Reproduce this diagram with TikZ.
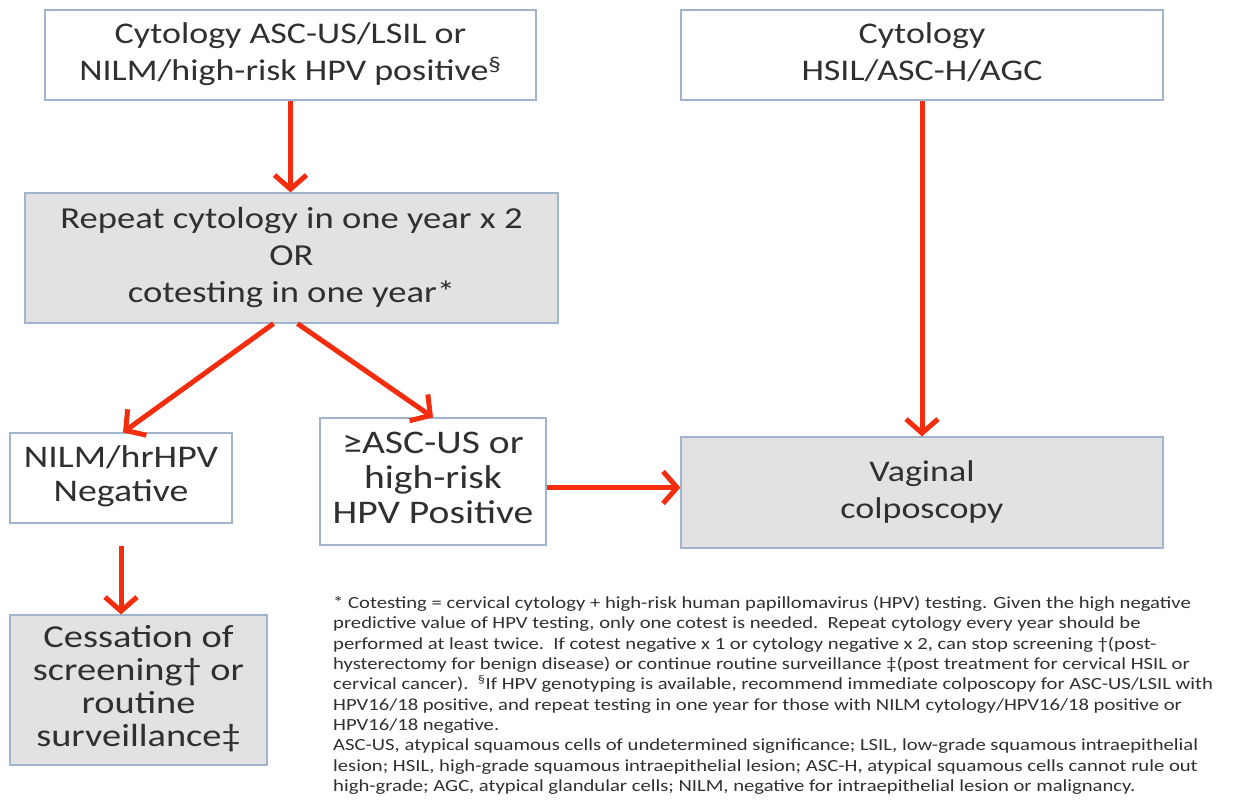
\documentclass[tikz,border=0pt]{standalone}
\usepackage{fontspec}
\setmainfont{Carlito}
\usetikzlibrary{arrows.meta,calc}
\definecolor{bordc}{RGB}{160,180,205}
\definecolor{boxgray}{RGB}{226,226,226}
\definecolor{arrred}{RGB}{245,45,15}
\definecolor{txt}{RGB}{48,48,48}
\newcommand{\btxt}[3]{\fontsize{#1}{#2}\selectfont\scalebox{1.2}[1]{\begin{tabular}{@{}c@{}}#3\end{tabular}}}
\begin{document}
\begin{tikzpicture}[x=1pt,y=-1pt,
  box/.style={draw=bordc, line width=1.2pt, rectangle, inner sep=0pt, align=center, text=txt},
  whitebox/.style={box, fill=white},
  graybox/.style={box, fill=boxgray},
  arr/.style={draw=arrred, line width=5pt, -{Straight Barb[length=14pt,width=32pt]}},
]
\fill[white] (0,0) rectangle (1234,804);
\useasboundingbox (0,0) rectangle (1234,804);

\node[whitebox, minimum width=491pt, minimum height=90pt] (A) at (290.5,55)
  {\btxt{30}{37}{Cytology ASC-US/LSIL or\\NILM/high-risk HPV positive\textsuperscript{§}}};
\node[whitebox, minimum width=482pt, minimum height=90pt] (C) at (922,55)
  {\btxt{30}{37}{Cytology\\HSIL/ASC-H/AGC}};
\node[graybox, minimum width=533pt, minimum height=130pt] (B) at (291.5,258)
  {\btxt{30.5}{37}{Repeat cytology in one year x 2\\OR\\cotesting in one year*}};
\node[whitebox, minimum width=222pt, minimum height=90pt] (N) at (121,478)
  {\btxt{31.5}{34}{NILM/hrHPV\\Negative}};
\node[whitebox, minimum width=226pt, minimum height=127pt] (P) at (433,481.5)
  {\btxt{33}{35}{≥ASC-US or\\high-risk\\HPV Positive}};
\node[graybox, minimum width=482pt, minimum height=111pt] (V) at (922,492.5)
  {\btxt{30}{37}{Vaginal\\colposcopy}};
\node[graybox, minimum width=257pt, minimum height=150pt] (S) at (138.5,690)
  {\btxt{32}{33}{Cessation of\\screening† or\\routine\\surveillance‡}};

\draw[arr] (A.south) -- (A.south |- B.north);
\draw[arr] (C.south) -- (V.north);
\draw[arr] ([xshift=-18pt]B.south) -- ([xshift=2pt]N.north);
\draw[arr] ([xshift=6pt]B.south) -- (P.north);
\draw[arr] ([yshift=-6pt]P.east) -- ([yshift=-6pt]P.east -| V.west);
\draw[arr] ([yshift=-22pt]N.south) -- (N.south |- S.north);

\node[anchor=north west, inner sep=0pt, text=txt, align=left] (F) at (333,594)
  {\fontsize{17}{20.3}\selectfont\scalebox{1.215}[1]{\begin{tabular}{@{}l@{}}
* Cotesting = cervical cytology + high-risk human papillomavirus (HPV) testing. Given the high negative\\
predictive value of HPV testing, only one cotest is needed.\ \ Repeat cytology every year should be\\
performed at least twice.\ \ If cotest negative x 1 or cytology negative x 2, can stop screening †(post-\\
hysterectomy for benign disease) or continue routine surveillance ‡(post treatment for cervical HSIL or\\
cervical cancer).\ \ \textsuperscript{§}If HPV genotyping is available, recommend immediate colposcopy for ASC-US/LSIL with\\
HPV16/18 positive, and repeat testing in one year for those with NILM cytology/HPV16/18 positive or\\
HPV16/18 negative.\\
ASC-US, atypical squamous cells of undetermined significance; LSIL, low-grade squamous intraepithelial\\
lesion; HSIL, high-grade squamous intraepithelial lesion; ASC-H, atypical squamous cells cannot rule out\\
high-grade; AGC, atypical glandular cells; NILM, negative for intraepithelial lesion or malignancy.
\end{tabular}}};
\end{tikzpicture}
\end{document}
